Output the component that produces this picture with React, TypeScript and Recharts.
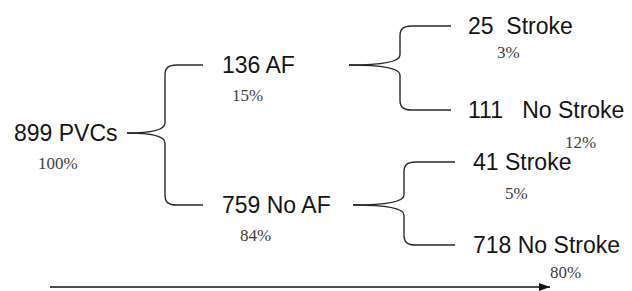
import * as React from 'react';
import { ComposedChart, XAxis, YAxis, Scatter, Line, ReferenceLine } from 'recharts';

// tree data
const nodeLabels = ['899 PVCs', '136 AF', '759 No AF', '25  Stroke', '111   No Stroke', '41 Stroke', '718 No Stroke'];
const nodePercents = ['100%', '15%', '84%', '3%', '12%', '5%', '80%'];
const nodeParents = [-1, 0, 0, 1, 1, 2, 2];

// layout (pixel-ish units of the hidden axes)
const labelX = [14, 222, 222, 468, 468, 473, 473];
const labelY = [133, 65, 205, 26, 110, 162, 245];
const pctDx = [24, 10, 18, 29, 97, 32, 77];
const pctDy = [30, 30, 30, 26, 32, 31, 27];
const braceTipX = [127, 349, 353];
const braceEndX = [203, 451, 455];
const arrowX = [50, 550];
const arrowY = 287;

const W = 632;
const H = 291;

const nodes = nodeLabels.map((label, i) => ({
  x: labelX[i],
  y: labelY[i],
  label,
  pct: nodePercents[i],
  pdx: pctDx[i],
  pdy: pctDy[i],
}));

// one line per brace arm: parent tip -> child arm end
const braceArms = nodeParents
  .map((p, i) => ({ p, i }))
  .filter(d => d.p >= 0)
  .map(({ p, i }) => [
    { x: braceTipX[p], y: labelY[p] },
    { x: braceEndX[p], y: labelY[i] },
  ]);

const arrowLine = arrowX.map(x => ({ x, y: arrowY }));
const arrowHead = [{ x: arrowX[1], y: arrowY }];

// d3-style curve factory drawing half a curly brace between two points
function braceCurve(ctx: any) {
  let pts: number[][] = [];
  return {
    areaStart() {},
    areaEnd() {},
    lineStart() { pts = []; },
    point(x: number, y: number) { pts.push([x, y]); },
    lineEnd() {
      if (pts.length < 2) return;
      const [x0, y0] = pts[0];
      const [x1, y1] = pts[pts.length - 1];
      const xv = (x0 + x1) / 2;
      const s = y1 > y0 ? 1 : -1;
      const r = 10;
      ctx.moveTo(x0, y0);
      ctx.bezierCurveTo(x0 + (xv - x0) * 0.55, y0, xv, y0 + s * 2, xv, y0 + s * r);
      ctx.lineTo(xv, y1 - s * r);
      ctx.bezierCurveTo(xv, y1 - s * 3, xv + 3, y1, xv + r + 2, y1);
      ctx.lineTo(x1, y1);
    },
  };
}

const NodeShape = (props: any) => {
  const { cx, cy } = props;
  const d = props.payload ?? props;
  return (
    <g>
      <text
        x={cx}
        y={cy}
        dominantBaseline="central"
        fontFamily="'Liberation Sans', Arial, sans-serif"
        fontSize={23}
        fill="#151515"
        style={{ whiteSpace: 'pre' }}
      >
        {d.label}
      </text>
      <text
        x={cx + d.pdx}
        y={cy + d.pdy}
        dominantBaseline="central"
        fontFamily="'Liberation Serif', 'Times New Roman', serif"
        fontSize={17}
        fill="#404040"
      >
        {d.pct}
      </text>
    </g>
  );
};

const ArrowHeadShape = (props: any) => {
  const { cx, cy } = props;
  return <path d={`M${cx - 11},${cy - 4} L${cx},${cy} L${cx - 11},${cy + 4} Z`} fill="#111" />;
};

export default function App() {
  return (
    <div style={{ position: 'absolute', left: 0, top: 0, width: W, height: H, background: '#fff' }}>
      <ComposedChart width={W} height={H} margin={{ top: 0, right: 0, bottom: 0, left: 0 }}>
        <XAxis type="number" dataKey="x" domain={[0, W]} hide allowDataOverflow />
        <YAxis type="number" dataKey="y" domain={[0, H]} reversed hide allowDataOverflow />
        {braceArms.map((arm, k) => (
          <Line
            key={k}
            data={arm}
            dataKey="y"
            type={braceCurve as any}
            stroke="#2a2a2a"
            strokeWidth={1.4}
            dot={false}
            activeDot={false}
            isAnimationActive={false}
          />
        ))}
        <Line
          data={arrowLine}
          dataKey="y"
          type="linear"
          stroke="#111"
          strokeWidth={1.6}
          dot={false}
          activeDot={false}
          isAnimationActive={false}
        />
        <Scatter data={arrowHead} dataKey="y" shape={ArrowHeadShape} isAnimationActive={false} />
        <Scatter data={nodes} dataKey="y" shape={NodeShape} isAnimationActive={false} />
      </ComposedChart>
    </div>
  );
}
